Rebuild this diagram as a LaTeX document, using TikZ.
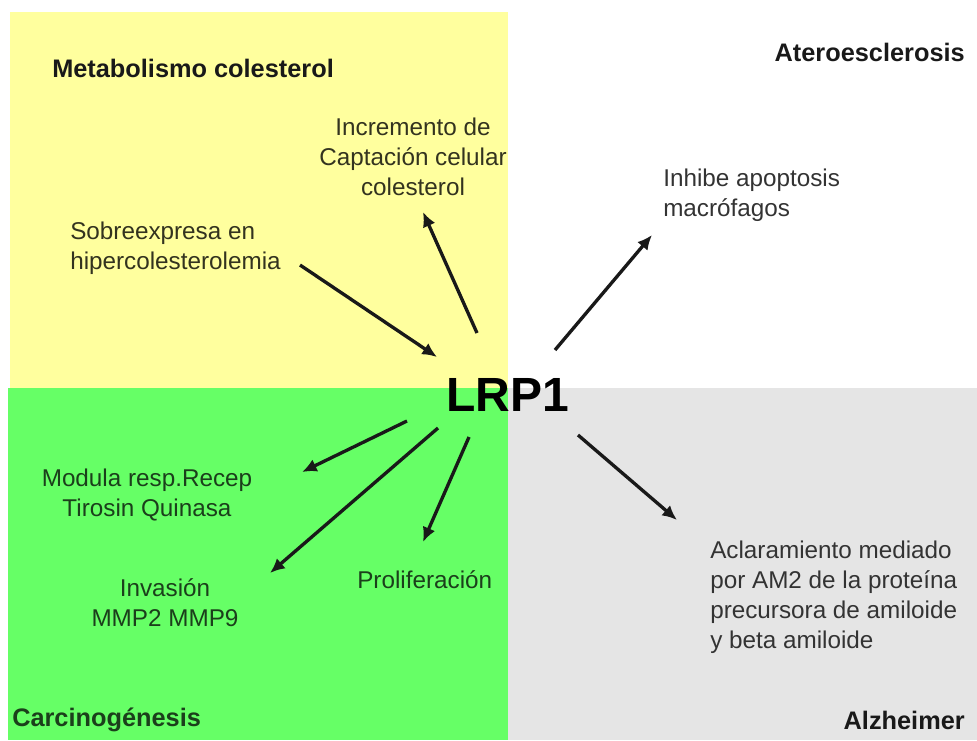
\documentclass[tikz,border=0pt]{standalone}
\usepackage{fontspec}
\setmainfont{Liberation Sans}
\usetikzlibrary{arrows.meta, positioning}
\definecolor{amarillo}{HTML}{FFFF9E}
\definecolor{verde}{HTML}{66FF66}
\definecolor{gris}{HTML}{E5E5E5}
\definecolor{txtverde}{HTML}{1B3F1B}
\definecolor{txtamarillo}{HTML}{33331F}

\begin{document}
\begin{tikzpicture}[
    x=0.75pt, y=-0.75pt,
    every node/.style={inner sep=0pt, font=\fontsize{18.2}{22.5}\selectfont},
    texto/.style={text=black!80},
    titulo/.style={font=\bfseries\fontsize{19}{22}\selectfont, text=black!90},
    flecha/.style={-{Latex[length=11pt, width=10pt]}, line width=2.5pt, draw=black!90}
]
\useasboundingbox (0,0) rectangle (977,740);
\fill[amarillo] (10,12) rectangle (508,388);
\fill[verde] (8,388) rectangle (508,740);
\fill[gris] (508,388) rectangle (977,740);

% cuadrantes
\node[titulo, anchor=west] (metab) at (52,68) {Metabolismo colesterol};
\node[titulo, anchor=east] (atero) at (965,52) {Ateroesclerosis};
\node[titulo, anchor=west, text=txtverde] (carcino) at (12,720) {Carcinogénesis};
\node[titulo, anchor=east] (alz) at (965,720) {Alzheimer};

\node[font=\bfseries\fontsize{36}{40}\selectfont] (lrp) at (508,395) {LRP1};

\node[texto, text=txtamarillo, align=center] (incr) at (413,157) {Incremento de\\Captación celular\\colesterol};
\node[texto, text=txtamarillo, align=left, anchor=west] (sobre) at (70,248) {Sobreexpresa en\\hipercolesterolemia};
\node[texto, align=left, anchor=west] (inhibe) at (663,195) {Inhibe apoptosis\\macrófagos};
\node[texto, text=txtverde, align=center] (modula) at (147,495) {Modula resp.Recep\\Tirosin Quinasa};
\node[texto, text=txtverde, align=center] (invasion) at (165,603) {Invasión\\MMP2 MMP9};
\node[texto, text=txtverde, anchor=west] (prolif) at (357,580) {Proliferación};
\node[texto, align=left, anchor=west] (aclar) at (710,597) {Aclaramiento mediado\\por AM2 de la proteína\\precursora de amiloide\\y beta amiloide};

% extremos de las flechas
\coordinate (sobre-a) at (300,265);
\coordinate (sobre-b) at (437,357);
\coordinate (incr-a) at (477,333);
\coordinate (incr-b) at (423,212);
\coordinate (inhibe-a) at (555,350);
\coordinate (inhibe-b) at (652,235);
\coordinate (modula-a) at (407,421);
\coordinate (modula-b) at (302,472);
\coordinate (invasion-a) at (438,428);
\coordinate (invasion-b) at (270,573);
\coordinate (prolif-a) at (469,437);
\coordinate (prolif-b) at (423,542);
\coordinate (aclar-a) at (578,435);
\coordinate (aclar-b) at (677,520);

\draw[flecha] (sobre-a) -- (sobre-b);
\draw[flecha] (incr-a) -- (incr-b);
\draw[flecha] (inhibe-a) -- (inhibe-b);
\draw[flecha] (modula-a) -- (modula-b);
\draw[flecha] (invasion-a) -- (invasion-b);
\draw[flecha] (prolif-a) -- (prolif-b);
\draw[flecha] (aclar-a) -- (aclar-b);
\end{tikzpicture}
\end{document}
